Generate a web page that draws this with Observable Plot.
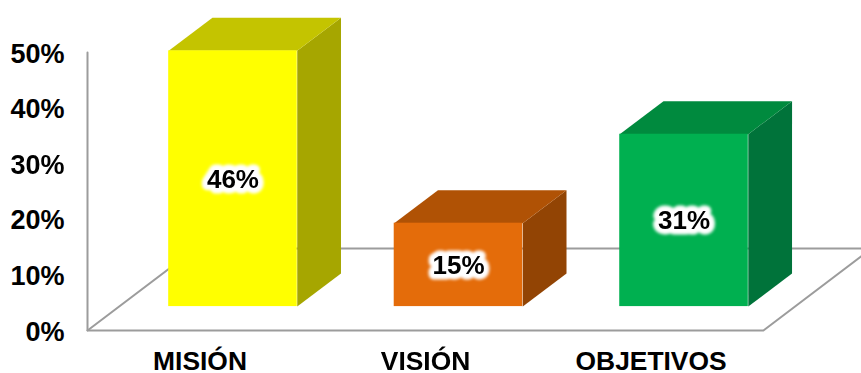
<!DOCTYPE html>
<html lang="es">
<head>
<meta charset="utf-8">
<title>Misión, visión y objetivos</title>
<script src="https://cdn.jsdelivr.net/npm/d3@7"></script>
<script src="https://cdn.jsdelivr.net/npm/@observablehq/plot@0.6"></script>
<style>
  html, body { margin: 0; padding: 0; background: #fff; }
</style>
</head>
<body>
<div id="chart"></div>
<script>
const categories = ["MISIÓN", "VISIÓN", "OBJETIVOS"];
const values = [46, 15, 31];
const frontColors = ["#ffff00", "#e46c0a", "#00b050"];
const topColors = ["#c4c400", "#b05205", "#008a3e"];
const sideColors = ["#a6a600", "#924404", "#00733a"];
const yTicks = [0, 10, 20, 30, 40, 50];

// Oblique projection, in scale units: each bar floats above the floor and
// recedes by depthX / depthY towards the back wall.
const barOffset = -0.002;
const halfWidth = 0.285;
const depthX = 0.194;
const depthY = 5.94;
const barBase = 4.3;
const floorDepthX = 0.48;
const floorDepthY = 14.75;
const xMin = -0.647;
const xMax = 2.785;
const floorRight = 2.35;
const labelShift = 0.148;

const bars = categories.map((name, i) => ({
  name,
  value: values[i],
  x1: i + barOffset - halfWidth,
  x2: i + barOffset + halfWidth,
  y1: barBase,
  y2: barBase + values[i],
  front: frontColors[i],
  top: topColors[i],
  side: sideColors[i],
  i
}));

const faces = bars.flatMap((b) => [
  {id: `side${b.i}`, fill: b.side, x: b.x2, y: b.y1},
  {id: `side${b.i}`, fill: b.side, x: b.x2 + depthX, y: b.y1 + depthY},
  {id: `side${b.i}`, fill: b.side, x: b.x2 + depthX, y: b.y2 + depthY},
  {id: `side${b.i}`, fill: b.side, x: b.x2, y: b.y2},
  {id: `top${b.i}`, fill: b.top, x: b.x1, y: b.y2},
  {id: `top${b.i}`, fill: b.top, x: b.x2, y: b.y2},
  {id: `top${b.i}`, fill: b.top, x: b.x2 + depthX, y: b.y2 + depthY},
  {id: `top${b.i}`, fill: b.top, x: b.x1 + depthX, y: b.y2 + depthY}
]);

// Wall edge, floor outline and back edge of the chart box
const frameLines = [
  {id: "wall", x: xMin, y: yTicks[yTicks.length - 1]},
  {id: "wall", x: xMin, y: 0},
  {id: "wall", x: floorRight, y: 0},
  {id: "wall", x: floorRight + floorDepthX, y: floorDepthY},
  {id: "floor", x: xMin, y: 0},
  {id: "floor", x: xMin + floorDepthX, y: floorDepthY},
  {id: "floor", x: xMax, y: floorDepthY}
];

const labelX = (b) => (b.x1 + b.x2) / 2;
const labelY = (b) => barBase + b.value / 2 - 0.1;
const font = "'Liberation Sans', Arial, sans-serif";

const chart = Plot.plot({
  width: 861,
  height: 373,
  marginLeft: 87,
  marginRight: 0,
  marginTop: 52,
  marginBottom: 43,
  style: {fontFamily: font, background: "#fff", color: "#000"},
  x: {domain: [xMin, xMax]},
  y: {domain: [0, 50]},
  marks: [
    Plot.line(frameLines, {x: "x", y: "y", z: "id", stroke: "#9c9c9c", strokeWidth: 2, curve: "linear"}),
    Plot.line(faces, {x: "x", y: "y", z: "id", fill: "fill", stroke: "none", curve: "linear-closed"}),
    Plot.rect(bars, {x1: "x1", x2: "x2", y1: "y1", y2: "y2", fill: "front"}),
    // Soft white glow behind each value
    Plot.text(bars, {
      x: labelX, y: labelY, text: (b) => `${b.value}%`,
      fontSize: 26, fontWeight: "bold", fill: "#fff",
      stroke: "#fff", strokeWidth: 11, strokeLinejoin: "round",
      imageFilter: "blur(1.5px)"
    }),
    Plot.text(bars, {
      x: labelX, y: labelY, text: (b) => `${b.value}%`,
      fontSize: 26, fontWeight: "bold", fill: "#000"
    }),
    Plot.axisY({
      ticks: yTicks, tickSize: 0, tickPadding: 23, dy: 1.5,
      tickFormat: (d) => `${d}%`,
      fontSize: 27, fontWeight: "bold", label: null
    }),
    Plot.axisX({
      ticks: categories.map((_, i) => i - labelShift),
      tickFormat: (_, i) => categories[i],
      tickSize: 0, tickPadding: 21,
      fontSize: 26.4, fontWeight: "bold", label: null
    })
  ]
});

document.getElementById("chart").append(chart);
</script>
</body>
</html>
